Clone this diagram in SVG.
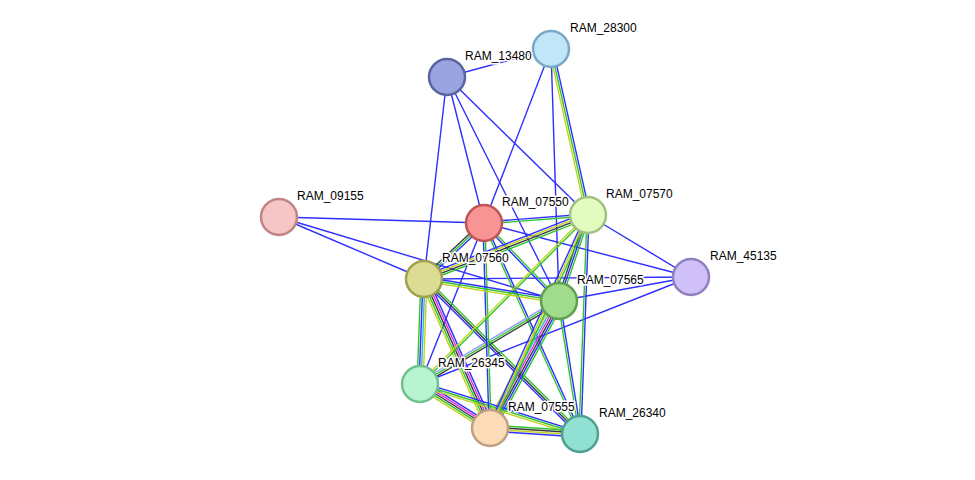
<svg xmlns="http://www.w3.org/2000/svg" width="975" height="480" viewBox="0 0 975 480">
<style>
line{stroke-width:1.4;fill:none}
.b{stroke:#2f2fff}.g{stroke:#2ec52e}.k{stroke:#3a3a3a}.y{stroke:#c2d21c}.m{stroke:#e22ee2}.c{stroke:#2fb8dc}.l{stroke:#9a9aff}
circle{stroke-width:2.5}
text{font-family:"Liberation Sans",Arial,sans-serif;font-size:12px;fill:#000;stroke:#fff;stroke-width:3px;paint-order:stroke;stroke-linejoin:round}
</style>
<rect width="975" height="480" fill="#fff"/>
<g id="edges">
<line class="b" x1="447" y1="77" x2="551" y2="49"/>
<line class="b" x1="447" y1="77" x2="484" y2="223"/>
<line class="b" x1="447" y1="77" x2="424" y2="279"/>
<line class="b" x1="447" y1="77" x2="588" y2="215"/>
<line class="b" x1="447" y1="77" x2="559" y2="301"/>
<line class="b" x1="551" y1="49" x2="484" y2="223"/>
<line class="b" x1="551" y1="49" x2="559" y2="301"/>
<line class="b" x1="279" y1="217" x2="484" y2="223"/>
<line class="b" x1="279" y1="217" x2="424" y2="279"/>
<line class="b" x1="279" y1="217" x2="559" y2="301"/>
<line class="b" x1="484" y1="223" x2="691" y2="277"/>
<line class="b" x1="588" y1="215" x2="691" y2="277"/>
<line class="b" x1="424" y1="279" x2="691" y2="277"/>
<line class="b" x1="559" y1="301" x2="691" y2="277"/>
<line class="b" x1="420" y1="384" x2="691" y2="277"/>
<line class="b" x1="484" y1="223" x2="420" y2="384"/>
<g transform="translate(551,49) rotate(77.4)"><line class="b" x1="0" y1="-2" x2="170" y2="-2"/><line class="g" x1="0" y1="0" x2="170" y2="0"/><line class="y" x1="0" y1="2" x2="170" y2="2"/></g>
<g transform="translate(484,223) rotate(65.5)"><line class="b" x1="0" y1="-1" x2="232" y2="-1"/><line class="g" x1="0" y1="1" x2="232" y2="1"/></g>
<g transform="translate(588,215) rotate(92.1)"><line class="b" x1="0" y1="-1" x2="219" y2="-1"/><line class="g" x1="0" y1="1" x2="219" y2="1"/></g>
<g transform="translate(559,301) rotate(81)"><line class="b" x1="0" y1="-1" x2="135" y2="-1"/><line class="g" x1="0" y1="1" x2="135" y2="1"/></g>
<g transform="translate(424,279) rotate(44.8)"><line class="g" x1="0" y1="-2" x2="220" y2="-2"/><line class="k" x1="0" y1="0" x2="220" y2="0"/><line class="b" x1="0" y1="2" x2="220" y2="2"/></g>
<g transform="translate(424,279) rotate(66.1)"><line class="b" x1="0" y1="-4" x2="163" y2="-4"/><line class="m" x1="0" y1="-2" x2="163" y2="-2"/><line class="k" x1="0" y1="0" x2="163" y2="0"/><line class="g" x1="0" y1="2" x2="163" y2="2"/><line class="y" x1="0" y1="4" x2="163" y2="4"/></g>
<g transform="translate(424,279) rotate(92.2)"><line class="y" x1="0" y1="-3" x2="105" y2="-3"/><line class="c" x1="0" y1="-1" x2="105" y2="-1"/><line class="b" x1="0" y1="1" x2="105" y2="1"/><line class="g" x1="0" y1="3" x2="105" y2="3"/></g>
<g transform="translate(559,301) rotate(118.5)"><line class="g" x1="0" y1="-5" x2="145" y2="-5"/><line class="b" x1="0" y1="-3" x2="145" y2="-3"/><line class="k" x1="0" y1="-1" x2="145" y2="-1"/><line class="m" x1="0" y1="1" x2="145" y2="1"/><line class="c" x1="0" y1="3" x2="145" y2="3"/><line class="y" x1="0" y1="5" x2="145" y2="5"/></g>
<g transform="translate(559,301) rotate(149.2)"><line class="k" x1="0" y1="-2" x2="162" y2="-2"/><line class="g" x1="0" y1="0" x2="162" y2="0"/><line class="l" x1="0" y1="2" x2="162" y2="2"/></g>
<g transform="translate(420,384) rotate(32.2)"><line class="b" x1="0" y1="-4" x2="83" y2="-4"/><line class="m" x1="0" y1="-2" x2="83" y2="-2"/><line class="k" x1="0" y1="0" x2="83" y2="0"/><line class="g" x1="0" y1="2" x2="83" y2="2"/><line class="y" x1="0" y1="4" x2="83" y2="4"/></g>
<g transform="translate(420,384) rotate(17.4)"><line class="b" x1="0" y1="-2" x2="168" y2="-2"/><line class="g" x1="0" y1="0" x2="168" y2="0"/><line class="y" x1="0" y1="2" x2="168" y2="2"/></g>
<g transform="translate(490,428) rotate(3.8)"><line class="g" x1="0" y1="-3" x2="90" y2="-3"/><line class="k" x1="0" y1="-1" x2="90" y2="-1"/><line class="y" x1="0" y1="1" x2="90" y2="1"/><line class="b" x1="0" y1="3" x2="90" y2="3"/></g>
<g transform="translate(484,223) rotate(-4.4)"><line class="b" x1="0" y1="-1" x2="104" y2="-1"/><line class="g" x1="0" y1="1" x2="104" y2="1"/></g>
<g transform="translate(484,223) rotate(137)"><line class="b" x1="0" y1="-2" x2="82" y2="-2"/><line class="g" x1="0" y1="0" x2="82" y2="0"/><line class="k" x1="0" y1="2" x2="82" y2="2"/></g>
<g transform="translate(484,223) rotate(46.1)"><line class="g" x1="0" y1="-1" x2="108" y2="-1"/><line class="b" x1="0" y1="1" x2="108" y2="1"/></g>
<g transform="translate(484,223) rotate(88.3)"><line class="g" x1="0" y1="-1" x2="205" y2="-1"/><line class="b" x1="0" y1="1" x2="205" y2="1"/></g>
<g transform="translate(588,215) rotate(158.7)"><line class="g" x1="0" y1="-3" x2="176" y2="-3"/><line class="k" x1="0" y1="-1" x2="176" y2="-1"/><line class="y" x1="0" y1="1" x2="176" y2="1"/><line class="b" x1="0" y1="3" x2="176" y2="3"/></g>
<g transform="translate(588,215) rotate(108.6)"><line class="g" x1="0" y1="-2" x2="91" y2="-2"/><line class="b" x1="0" y1="0" x2="91" y2="0"/><line class="k" x1="0" y1="2" x2="91" y2="2"/></g>
<g transform="translate(588,215) rotate(134.8)"><line class="g" x1="0" y1="-1" x2="238" y2="-1"/><line class="y" x1="0" y1="1" x2="238" y2="1"/></g>
<g transform="translate(588,215) rotate(114.7)"><line class="g" x1="0" y1="-2" x2="234" y2="-2"/><line class="y" x1="0" y1="0" x2="234" y2="0"/><line class="b" x1="0" y1="2" x2="234" y2="2"/></g>
<g transform="translate(424,279) rotate(9.3)"><line class="b" x1="0" y1="-2" x2="137" y2="-2"/><line class="g" x1="0" y1="0" x2="137" y2="0"/><line class="y" x1="0" y1="2" x2="137" y2="2"/></g>
</g>
<g id="RAM_28300"><circle cx="551" cy="49" r="18" fill="#c0e6f8" stroke="#7aa8c8"/><text x="570" y="32">RAM_28300</text></g>
<g id="RAM_13480"><circle cx="447" cy="77" r="18" fill="#9aa4e0" stroke="#5a64a0"/><text x="465" y="60">RAM_13480</text></g>
<g id="RAM_09155"><circle cx="279" cy="217" r="18" fill="#f6c6c6" stroke="#c08484"/><text x="297" y="200">RAM_09155</text></g>
<g id="RAM_07550"><circle cx="484" cy="223" r="18" fill="#f89494" stroke="#c05454"/><text x="502" y="206">RAM_07550</text></g>
<g id="RAM_07570"><circle cx="588" cy="215" r="18" fill="#e2fcc0" stroke="#a0c080"/><text x="606" y="198">RAM_07570</text></g>
<g id="RAM_45135"><circle cx="691" cy="277" r="18" fill="#d0c0f8" stroke="#9080c0"/><text x="710" y="260">RAM_45135</text></g>
<g id="RAM_07560"><circle cx="424" cy="279" r="18" fill="#dcdc94" stroke="#a0a050"/><text x="442" y="262">RAM_07560</text></g>
<g id="RAM_07565"><circle cx="559" cy="301" r="18" fill="#a0dc8c" stroke="#60a050"/><text x="577" y="284">RAM_07565</text></g>
<g id="RAM_26345"><circle cx="420" cy="384" r="18" fill="#b8f4d0" stroke="#70c090"/><text x="438" y="367">RAM_26345</text></g>
<g id="RAM_07555"><circle cx="490" cy="428" r="18" fill="#fcdcb8" stroke="#c0a080"/><text x="508" y="411">RAM_07555</text></g>
<g id="RAM_26340"><circle cx="580" cy="434" r="18" fill="#90e0d4" stroke="#50a090"/><text x="599" y="417">RAM_26340</text></g>
</svg>
